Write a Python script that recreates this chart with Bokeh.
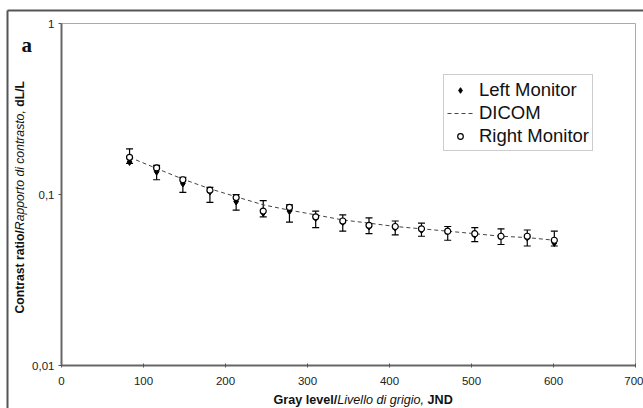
import math
from bokeh.plotting import figure
from bokeh.models import (ColumnDataSource, Whisker, TeeHead, Legend, LegendItem,
                          FixedTicker, Range1d)
from bokeh.core.properties import value
from bokeh.embed import file_html
from bokeh.resources import INLINE

# ---- data ----
gray_level = [83, 116, 148, 181, 213, 246, 278, 310, 343, 375, 407, 439, 471, 504, 536, 568, 601]
left_monitor = [0.155, 0.136, 0.116, 0.104, 0.091, 0.078, 0.080, 0.073, 0.069, 0.065, 0.064,
                0.062, 0.061, 0.058, 0.057, 0.056, 0.052]
right_monitor = [0.165, 0.143, 0.122, 0.106, 0.096, 0.080, 0.084, 0.074, 0.070, 0.066, 0.065,
                 0.063, 0.061, 0.059, 0.057, 0.057, 0.054]
dicom = [0.165, 0.142, 0.123, 0.108, 0.097, 0.087, 0.081, 0.076, 0.071, 0.068, 0.065,
         0.063, 0.061, 0.059, 0.057, 0.056, 0.054]
err_upper = [0.185, 0.148, 0.126, 0.110, 0.100, 0.092, 0.087, 0.080, 0.076, 0.073, 0.070,
             0.068, 0.065, 0.064, 0.063, 0.062, 0.061]
err_lower = [0.152, 0.122, 0.103, 0.090, 0.081, 0.074, 0.069, 0.064, 0.061, 0.059, 0.058,
             0.057, 0.054, 0.053, 0.051, 0.050, 0.050]
x_ticks = [0, 100, 200, 300, 400, 500, 600, 700]
y_ticks = [0.01, 0.1, 1]
y_tick_labels = {0.01: "0,01", 0.1: "0,1", 1: "1"}
x_extent = (0, 700)
y_extent = (0.01, 1)
panel_letter = "a"
y_label_parts = ["Contrast ratio/", "Rapporto di contrasto,", "dL/L"]
x_label_parts = ["Gray level/", "Livello di grigio,", "JND"]

FONT = "Liberation Sans"
TXT = "#111111"
FRAME = "#555555"

# ---- canvas geometry (pixels) ----
W, H = 643, 408
FL, FR, FT, FB = 61, 635, 23, 365          # plotting area edges on the canvas
px_per_x = (FR - FL) / (x_extent[1] - x_extent[0])
px_per_dec = (FB - FT) / (math.log10(y_extent[1]) - math.log10(y_extent[0]))


def cx(px):          # canvas x pixel -> data x
    return x_extent[0] + (px - FL) / px_per_x


def cy(py):          # canvas y pixel -> data y (log)
    return 10 ** (math.log10(y_extent[1]) - (py - FT) / px_per_dec)


p = figure(width=W, height=H, output_backend="svg", toolbar_location=None, title=None,
           y_axis_type="log", x_range=Range1d(cx(0), cx(W)), y_range=Range1d(cy(H), cy(0)),
           min_border=0)
p.grid.visible = False
p.outline_line_color = None
p.background_fill_color = "white"
p.border_fill_color = "white"

xa, ya = p.xaxis[0], p.yaxis[0]
xa.fixed_location = y_extent[0]
xa.bounds = x_extent
ya.fixed_location = x_extent[0]
ya.bounds = y_extent
for ax in (xa, ya):
    ax.axis_line_color = "#666666"
    ax.axis_line_width = 2
    ax.major_tick_line_color = "#555555"
    ax.major_tick_line_width = 1
    ax.minor_tick_line_color = None
    ax.major_label_text_font = FONT
    ax.major_label_text_font_size = "11.5px"
    ax.major_label_text_color = "#222222"

xa.ticker = FixedTicker(ticks=x_ticks)
xa.major_tick_in = 2
xa.major_tick_out = 2
xa.major_label_standoff = 9
ya.ticker = FixedTicker(ticks=y_ticks, minor_ticks=[])
ya.major_label_overrides = y_tick_labels
ya.major_tick_in = 0
ya.major_tick_out = 3
ya.major_label_standoff = 4

# light plot-area border on top and right
p.line(x=[x_extent[0], x_extent[1]], y=[y_extent[1], y_extent[1]], line_color="#aaaaaa",
       line_width=1)
p.line(x=[x_extent[1], x_extent[1]], y=[y_extent[0], y_extent[1]], line_color="#aaaaaa",
       line_width=1)

src = ColumnDataSource(dict(x=gray_level, left=left_monitor, right=right_monitor,
                            dicom=dicom, up=err_upper, lo=err_lower))

r_dicom = p.line("x", "dicom", source=src, line_color="#444444", line_width=1,
                 line_dash="4 3")
r_left = p.scatter("x", "left", source=src, marker="diamond", size=7,
                   fill_color="black", line_color="black")
r_right = p.scatter("x", "right", source=src, marker="circle", size=6,
                    fill_color="white", line_color="black", line_width=1.2)
wh = Whisker(base="x", upper="up", lower="lo", source=src, dimension="height",
             line_color="black", line_width=1.2,
             upper_head=TeeHead(size=7, line_color="black", line_width=1.2),
             lower_head=TeeHead(size=7, line_color="black", line_width=1.2))
p.add_layout(wh)

legend = Legend(items=[LegendItem(label="Left Monitor", renderers=[r_left]),
                       LegendItem(label="DICOM", renderers=[r_dicom]),
                       LegendItem(label="Right Monitor", renderers=[r_right])],
                location=(443, H - 151), orientation="vertical")
legend.label_text_font = FONT
legend.label_text_font_size = "18.5px"
legend.label_text_color = TXT
legend.border_line_color = "#999999"
legend.border_line_width = 1
legend.background_fill_color = "white"
legend.background_fill_alpha = 1
legend.padding = 3
legend.spacing = 0
legend.margin = 0
legend.glyph_width = 26
legend.glyph_height = 14
legend.label_height = 23
legend.label_standoff = 6
p.add_layout(legend)

# outer panel frame (left and top edges)
p.line(x=[cx(7), cx(7)], y=[cy(10), cy(H + 5)], line_color=FRAME, line_width=2)
p.line(x=[cx(7), cx(W + 5)], y=[cy(10), cy(10)], line_color=FRAME, line_width=2)

# panel letter
p.text(x=[cx(21)], y=[cy(44)], text=[panel_letter], text_font=value("Liberation Serif"),
       text_font_style=value("bold"), text_font_size=value("21px"), text_color=TXT,
       text_align="left", text_baseline="middle")

# y-axis label, mixed bold / italic parts, reading bottom to top
ysz = 12.2
y_widths = [6.834, 9.838, 2.111]          # em widths of the parts
y_gaps = [0.0, 0.0, 0.278]                # leading space before a part (em)
y_styles = ["bold", "italic", "bold"]
pos = 313.0
for txt, style, w, g in zip(y_label_parts, y_styles, y_widths, y_gaps):
    pos -= g * ysz
    p.text(x=[cx(19)], y=[cy(pos)], text=[txt], angle=math.pi / 2, text_align="left",
           text_baseline="middle", text_font=value(FONT), text_font_style=value(style),
           text_font_size=value(f"{ysz}px"), text_color=TXT)
    pos -= w * ysz

# x-axis label, mixed bold / italic parts
xsz = 12.6
x_widths = [5.059, 6.891, 2.0]
x_gaps = [0.0, 0.0, 0.278]
x_styles = ["bold", "italic", "bold"]
pos = 273.0
for txt, style, w, g in zip(x_label_parts, x_styles, x_widths, x_gaps):
    pos += g * xsz
    p.text(x=[cx(pos)], y=[cy(399)], text=[txt], text_align="left",
           text_baseline="middle", text_font=value(FONT),
           text_font_style=value(style), text_font_size=value(f"{xsz}px"),
           text_color=TXT)
    pos += w * xsz

open("out.html", "w").write(file_html(p, INLINE))
